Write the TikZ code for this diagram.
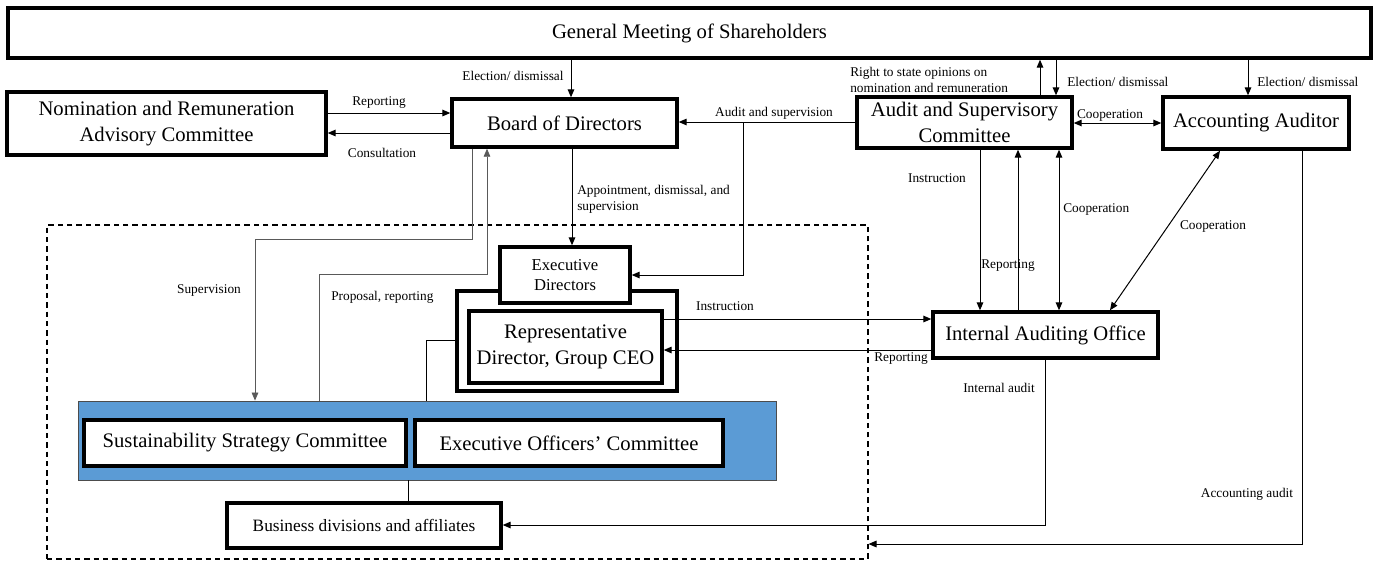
\documentclass[tikz,border=0pt]{standalone}
\usepackage{fontspec}
\setmainfont{Liberation Serif}
\usetikzlibrary{arrows.meta}
\definecolor{boxblue}{HTML}{5B9BD5}
\begin{document}
\begin{tikzpicture}[x=0.75pt,y=-0.75pt,
  box/.style={draw, line width=2.6pt, fill=white, inner sep=0pt, align=center, font=\fontsize{15.5}{19.5}\selectfont},
  wh/.style 2 args={minimum width={#1*0.75pt}, minimum height={#2*0.75pt}},
  conn/.style={line width=0.75pt, -{Triangle[length=6pt,width=5pt]}},
  both/.style={line width=0.75pt, {Triangle[length=6pt,width=5pt]}-{Triangle[length=6pt,width=5pt]}},
  gconn/.style={conn, draw=black!65, line width=0.6pt},
  plain/.style={line width=0.7pt},
  lbl/.style={font=\fontsize{10}{12}\selectfont, inner sep=0pt, align=left},
]
\useasboundingbox (0,0) rectangle (1384,562);

% dashed frame
\node[draw, dashed, dash pattern=on 4pt off 3pt, line width=0.8pt, inner sep=0pt, wh={821}{334}] (frame) at (457.5,392) {};

% boxes
\node[box, wh={1363}{50}] (gm) at (689.5,33) {General Meeting of Shareholders};
\node[box, wh={319}{63}] (nom) at (166.5,123.5) {Nomination and Remuneration\\Advisory Committee};
\node[box, wh={225}{48}] (bod) at (564.5,123) {Board of Directors};
\node[box, wh={215}{51}] (asc) at (964.5,122.5) {Audit and Supervisory\\Committee};
\node[box, wh={186}{52}] (acc) at (1256,123) {Accounting Auditor};
\node[box, wh={220}{100}] (repout) at (567,341) {};
\node[box, wh={130}{56}, font=\fontsize{12.5}{15}\selectfont] (exec) at (565,275) {Executive\\Directors};
\node[box, wh={193}{72}, font=\fontsize{15.5}{19}\selectfont] (rep) at (565.5,347) {Representative\\Director, Group CEO};
\node[box, wh={225}{46}] (iao) at (1045.5,335) {Internal Auditing Office};
\node[draw=black!70, fill=boxblue, line width=0.7pt, inner sep=0pt, wh={698}{79}] (blue) at (427,440.5) {};
\node[box, wh={322}{46}] (sus) at (245,443) {Sustainability Strategy Committee};
\node[box, wh={308}{46}] (eoc) at (569,443) {Executive Officers’ Committee};
\node[box, wh={274}{45}, font=\fontsize{13}{15}\selectfont] (bus) at (364,525.5) {Business divisions and affiliates};

\coordinate (br) at (743,122);

% connectors
\draw[conn] (571,0 |- gm.south) -- (571,0 |- bod.north);
\draw[conn] (nom.east |- 0,113) -- (bod.west |- 0,113);
\draw[conn] (bod.west |- 0,133) -- (nom.east |- 0,133);
\draw[conn] (1040,0 |- asc.north) -- (1040,0 |- gm.south);
\draw[conn] (1056,0 |- gm.south) -- (1056,0 |- asc.north);
\draw[conn] (1248,0 |- gm.south) -- (1248,0 |- acc.north);
\draw[both] (asc.east |- 0,123) -- (acc.west |- 0,123);
\draw[conn] (asc.west |- br) -- (bod.east |- br);
\draw[conn] (br) |- (exec.east |- 0,275);
\draw[conn] (572,0 |- bod.south) -- (572,0 |- exec.north);
\draw[gconn] (472,0 |- bod.south) -- (472,239) -- (255,239) -- (255,0 |- blue.north);
\draw[gconn] (319,0 |- blue.north) -- (319,274) -- (487,274) -- (487,0 |- bod.south);
\draw[plain] (repout.west |- 0,340) -- (426,340) -- (426,0 |- blue.north);
\draw[plain] (408,0 |- blue.south) -- (408,0 |- bus.north);
\draw[conn] (rep.east |- 0,319) -- (iao.west |- 0,319);
\draw[conn] (iao.west |- 0,350) -- (rep.east |- 0,350);
\draw[conn] (980,0 |- asc.south) -- (980,0 |- iao.north);
\draw[conn] (1018,0 |- iao.north) -- (1018,0 |- asc.south);
\draw[both] (1059,0 |- asc.south) -- (1059,0 |- iao.north);
\draw[both] (1220,0 |- acc.south) -- (1110,0 |- iao.north);
\draw[conn] (1045,0 |- iao.south) |- (bus.east |- 0,525);
\draw[conn] (1302,0 |- acc.south) |- (frame.east |- 0,544);

% labels
\node[lbl] (l1) at (513,76) {Election/ dismissal};
\node[lbl] (l2) at (379,103) {Reporting};
\node[lbl] (l3) at (382,153) {Consultation};
\node[lbl, anchor=west] (l4) at (850,80) {Right to state opinions on\\nomination and remuneration};
\node[lbl, anchor=west] (l5) at (1067,82) {Election/ dismissal};
\node[lbl, anchor=west] (l6) at (1257,82) {Election/ dismissal};
\node[lbl] (l7) at (1110,115) {Cooperation};
\node[lbl] (l8) at (774,113) {Audit and supervision};
\node[lbl, anchor=west] (l9) at (577,199) {Appointment, dismissal, and\\supervision};
\node[lbl] (l10) at (209,290) {Supervision};
\node[lbl, anchor=west] (l11) at (331,297) {Proposal, reporting};
\node[lbl] (l12) at (725,306) {Instruction};
\node[lbl] (l13) at (901,359) {Reporting};
\node[lbl] (l14) at (937,178) {Instruction};
\node[lbl] (l15) at (1008,266) {Reporting};
\node[lbl, anchor=west] (l16) at (1063,209) {Cooperation};
\node[lbl] (l17) at (1213,226) {Cooperation};
\node[lbl] (l18) at (999,388) {Internal audit};
\node[lbl] (l19) at (1247,494) {Accounting audit};
\end{tikzpicture}
\end{document}
